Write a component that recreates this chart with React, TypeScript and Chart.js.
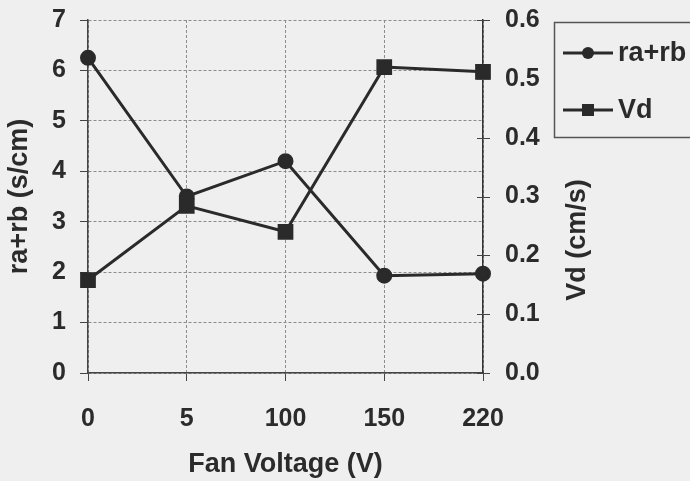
import { useEffect, useRef } from 'react';
import { Chart, registerables } from 'chart.js';

Chart.register(...registerables);

const categories = ['0', '5', '100', '150', '220'];
const raRbValues = [6.25, 3.5, 4.2, 1.93, 1.97];
const vdValues = [0.158, 0.284, 0.24, 0.52, 0.512];
const seriesNames = ['ra+rb', 'Vd'];
const leftTitle = 'ra+rb (s/cm)';
const rightTitle = 'Vd (cm/s)';
const xTitle = 'Fan Voltage (V)';

const FONT = '"Liberation Sans", Arial, sans-serif';
const INK = '#2b2b2b';
const LINE = '#2a2a2a';
const GRID = '#8c8c8c';
const TICK_SIZE = 25;
const TITLE_SIZE = 27;

const bgPlugin = {
  id: 'bg',
  beforeDraw(chart: any) {
    const { ctx, width, height } = chart;
    ctx.save();
    ctx.fillStyle = '#efefef';
    ctx.fillRect(0, 0, width, height);
    ctx.restore();
  },
};

const extrasPlugin = {
  id: 'extras',
  afterDraw(chart: any) {
    const { ctx, chartArea } = chart;
    const y1 = chart.scales.y1;
    ctx.save();
    // crossing tick marks on the right axis
    ctx.strokeStyle = '#444';
    ctx.lineWidth = 1;
    y1.ticks.forEach((t: any) => {
      const py = Math.round(y1.getPixelForValue(t.value)) + 0.5;
      ctx.beginPath();
      ctx.moveTo(chartArea.right - 6, py);
      ctx.lineTo(chartArea.right + 7, py);
      ctx.stroke();
    });
    // right axis title, reading bottom to top
    ctx.fillStyle = INK;
    ctx.font = `bold ${TITLE_SIZE}px ${FONT}`;
    ctx.translate(578, 240);
    ctx.rotate(-Math.PI / 2);
    ctx.textAlign = 'center';
    ctx.textBaseline = 'middle';
    ctx.fillText(rightTitle, 0, 0);
    ctx.restore();

    // legend
    ctx.save();
    ctx.strokeStyle = '#555';
    ctx.lineWidth = 1.5;
    ctx.strokeRect(554.5, 22.5, 200, 115);
    const rows = [53, 110];
    chart.data.datasets.forEach((ds: any, i: number) => {
      const y = rows[i];
      ctx.strokeStyle = LINE;
      ctx.lineWidth = 3;
      ctx.beginPath();
      ctx.moveTo(563, y);
      ctx.lineTo(613, y);
      ctx.stroke();
      ctx.fillStyle = LINE;
      if (ds.pointStyle === 'rect') {
        ctx.fillRect(588 - 6, y - 6, 12, 12);
      } else {
        ctx.beginPath();
        ctx.arc(588, y, 6, 0, Math.PI * 2);
        ctx.fill();
      }
      ctx.fillStyle = INK;
      ctx.font = `bold ${TITLE_SIZE}px ${FONT}`;
      ctx.textAlign = 'left';
      ctx.textBaseline = 'middle';
      ctx.fillText(ds.label, 618, y + 1);
    });
    ctx.restore();
  },
};

export default function App() {
  const ref = useRef<HTMLCanvasElement>(null);

  useEffect(() => {
    if (!ref.current) return;
    const chart = new Chart(ref.current, {
      type: 'line',
      data: {
        labels: categories,
        datasets: [
          {
            label: seriesNames[0],
            data: raRbValues,
            yAxisID: 'y',
            borderColor: LINE,
            backgroundColor: LINE,
            borderWidth: 3,
            pointStyle: 'circle',
            pointRadius: 6.5,
            pointHoverRadius: 6.5,
            tension: 0,
          },
          {
            label: seriesNames[1],
            data: vdValues,
            yAxisID: 'y1',
            borderColor: LINE,
            backgroundColor: LINE,
            borderWidth: 3,
            pointStyle: 'rect',
            pointRadius: 9,
            pointHoverRadius: 9,
            tension: 0,
          },
        ],
      },
      options: {
        responsive: true,
        maintainAspectRatio: false,
        animation: false,
        layout: { padding: { top: 20, right: 107, bottom: 0, left: 0 } },
        plugins: { legend: { display: false }, tooltip: { enabled: false } },
        scales: {
          x: {
            type: 'category',
            offset: false,
            afterFit: (s: any) => { s.height = 108; s.paddingLeft = 0; s.paddingRight = 0; },
            grid: { color: GRID, lineWidth: 1, tickColor: '#444', tickLength: 8 },
            border: { color: '#444', width: 1.5, dash: [3, 2] },
            ticks: { color: INK, font: { family: FONT, size: TICK_SIZE, weight: 'bold' }, padding: 23, maxRotation: 0 },
            title: { display: true, text: xTitle, color: INK, font: { family: FONT, size: TITLE_SIZE, weight: 'bold' }, padding: { top: 0, bottom: 0 } },
          },
          y: {
            position: 'left',
            min: 0,
            max: 7,
            afterFit: (s: any) => { s.width = 88; s.paddingTop = 0; s.paddingBottom = 0; },
            grid: { color: GRID, lineWidth: 1, tickColor: '#444', tickLength: 8 },
            border: { color: '#444', width: 1.5, dash: [3, 2] },
            ticks: { stepSize: 1, color: INK, font: { family: FONT, size: TICK_SIZE, weight: 'bold' }, padding: 14 },
            title: { display: true, text: leftTitle, color: INK, font: { family: FONT, size: TITLE_SIZE, weight: 'bold' }, padding: { top: 3, bottom: 0 } },
          },
          y1: {
            position: 'right',
            min: 0,
            max: 0.6,
            afterFit: (s: any) => { s.width = 100; s.paddingTop = 0; s.paddingBottom = 0; },
            grid: { display: true, drawOnChartArea: false, drawTicks: false },
            border: { color: '#333', width: 1.5 },
            ticks: {
              stepSize: 0.1,
              color: INK,
              font: { family: FONT, size: TICK_SIZE, weight: 'bold' },
              padding: 22,
              callback: (v: any) => Number(v).toFixed(1),
            },
          },
        },
      },
      plugins: [bgPlugin, extrasPlugin],
    });
    return () => chart.destroy();
  }, []);

  return (
    <div style={{ position: 'fixed', left: 0, top: 0, width: 690, height: 481 }}>
      <canvas ref={ref} />
    </div>
  );
}
